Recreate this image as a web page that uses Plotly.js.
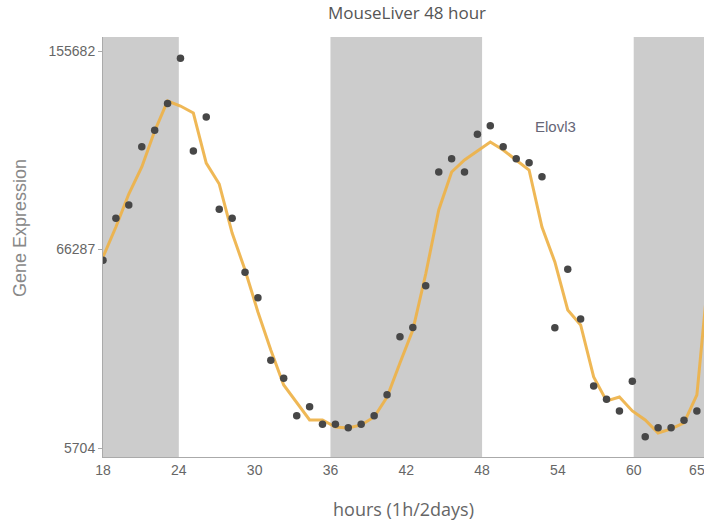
<!DOCTYPE html>
<html>
<head>
<meta charset="utf-8">
<script src="https://cdn.plot.ly/plotly-3.0.1.min.js"></script>
<style>
  html, body { margin: 0; padding: 0; background: #ffffff; }
  #chart { width: 704px; height: 527px; }
</style>
</head>
<body>
<div id="chart"></div>
<script>
// Sample times (hours)
const hours = [18, 19.02, 20.04, 21.07, 22.09, 23.11, 24.13, 25.15, 26.17, 27.2,
  28.22, 29.24, 30.26, 31.28, 32.3, 33.33, 34.35, 35.37, 36.39, 37.41,
  38.43, 39.46, 40.48, 41.5, 42.52, 43.54, 44.57, 45.59, 46.61, 47.63,
  48.65, 49.67, 50.7, 51.72, 52.74, 53.76, 54.78, 55.8, 56.83, 57.85,
  58.87, 59.89, 60.91, 61.93, 62.96, 63.98, 65.0];

// Measured expression (points)
const expression = [62000, 78670, 84195, 109707, 117234, 129837, 151990, 107750, 123505, 82398,
  78670, 57450, 48193, 27610, 22361, 12612, 14806, 10623, 10623, 9861,
  10623, 12612, 17883, 34960, 37964, 52503, 98409, 104295, 98409, 115383,
  119371, 109707, 104295, 102504, 96343, 37900, 58575, 40797, 20222, 16683,
  13745, 21519, 7940, 9861, 9861, 11535, 13745];

// Fitted curve (line), one extra sample past the visible edge
const fitHours = hours.concat([66.02]);
const fitted = [63257, 75118, 88847, 100600, 116904, 131052, 128664, 125336, 102360, 93164,
  72693, 58318, 43187, 30748, 20495, 15736, 11606, 11606, 10017, 9797,
  10465, 12306, 17280, 26795, 37138, 56814, 82117, 98409, 103713, 107750,
  111857, 108216, 103713, 99278, 75118, 61347, 43874, 38792, 22729, 16242,
  17280, 13745, 11606, 8716, 9577, 10916, 17806, 62113];

// Dark phases (hours)
const darkStart = [18, 36, 60];
const darkEnd = [24, 48, 72];

const yTickLabels = [5704, 66287, 155682];
const xTickVals = [18, 24, 30, 36, 42, 48, 54, 60, 65];
const geneName = 'Elovl3';
const labelPos = {hour: 53.8, value: 119200};

// axis scale transform (power scale)
const POW = 0.7;
const tf = v => Math.pow(v, POW);

const tMin = tf(yTickLabels[0]);
const tMax = tf(yTickLabels[2]);
const span = tMax - tMin;
// tMin at 448px, tMax at 51px; plot from 37px to 457px
const yLow = tMin - (457 - 448) / (448 - 51) * span;
const yHigh = tMax + (51 - 37) / (448 - 51) * span;

const shapes = darkStart.map((s, i) => ({
  type: 'rect', xref: 'x', yref: 'paper', x0: s, x1: darkEnd[i], y0: 0, y1: 1,
  fillcolor: '#cccccc', line: {width: 0}, layer: 'below'
}));

const traces = [
  {
    x: fitHours, y: fitted.map(tf), type: 'scatter', mode: 'lines',
    line: {color: 'rgba(238,178,72,0.92)', width: 3}, hoverinfo: 'skip', showlegend: false
  },
  {
    x: hours, y: expression.map(tf), type: 'scatter', mode: 'markers',
    marker: {color: '#474747', size: 7.5}, showlegend: false
  }
];

const layout = {
  width: 704, height: 527,
  margin: {l: 103, r: 0, t: 37, b: 70},
  paper_bgcolor: '#ffffff', plot_bgcolor: '#ffffff',
  showlegend: false,
  title: {
    text: 'MouseLiver 48 hour',
    font: {family: 'Open Sans, sans-serif', size: 17, color: '#555555'},
    xref: 'container', x: 407 / 704, xanchor: 'center',
    yref: 'container', y: 1 - 13 / 527, yanchor: 'middle'
  },
  xaxis: {
    range: [18, 18 + 601 / 12.636],
    tickvals: xTickVals,
    ticktext: xTickVals.map(String),
    ticklabeloverflow: 'allow',
    showgrid: false, zeroline: false,
    showline: true, linecolor: '#aaaaaa', linewidth: 1,
    ticks: '', ticklen: 0,
    tickfont: {family: 'Liberation Sans, Arial, sans-serif', size: 14, color: '#666666'},
    title: {
      text: 'hours (1h/2days)',
      font: {family: 'Open Sans, sans-serif', size: 18, color: '#666666'},
      standoff: 26
    }
  },
  yaxis: {
    range: [yLow, yHigh],
    tickvals: yTickLabels.map(tf),
    ticktext: yTickLabels.map(String),
    showgrid: false, zeroline: false,
    showline: true, linecolor: '#aaaaaa', linewidth: 1,
    ticks: 'outside', ticklen: 4, tickcolor: '#aaaaaa',
    tickfont: {family: 'Liberation Sans, Arial, sans-serif', size: 14, color: '#666666'}
  },
  shapes: shapes,
  annotations: [
    {
      x: labelPos.hour, y: tf(labelPos.value), xref: 'x', yref: 'y',
      text: geneName, showarrow: false,
      font: {family: 'Liberation Sans, Arial, sans-serif', size: 15, color: '#666677'}
    },
    {
      xref: 'paper', yref: 'paper', x: (20 - 103) / 601, y: (457 - 228) / 420,
      xanchor: 'center', yanchor: 'middle', textangle: -90,
      text: 'Gene Expression', showarrow: false,
      font: {family: 'Liberation Sans, Arial, sans-serif', size: 18, color: '#888888'}
    }
  ]
};

Plotly.newPlot('chart', traces, layout, {displayModeBar: false, staticPlot: true});
</script>
</body>
</html>
